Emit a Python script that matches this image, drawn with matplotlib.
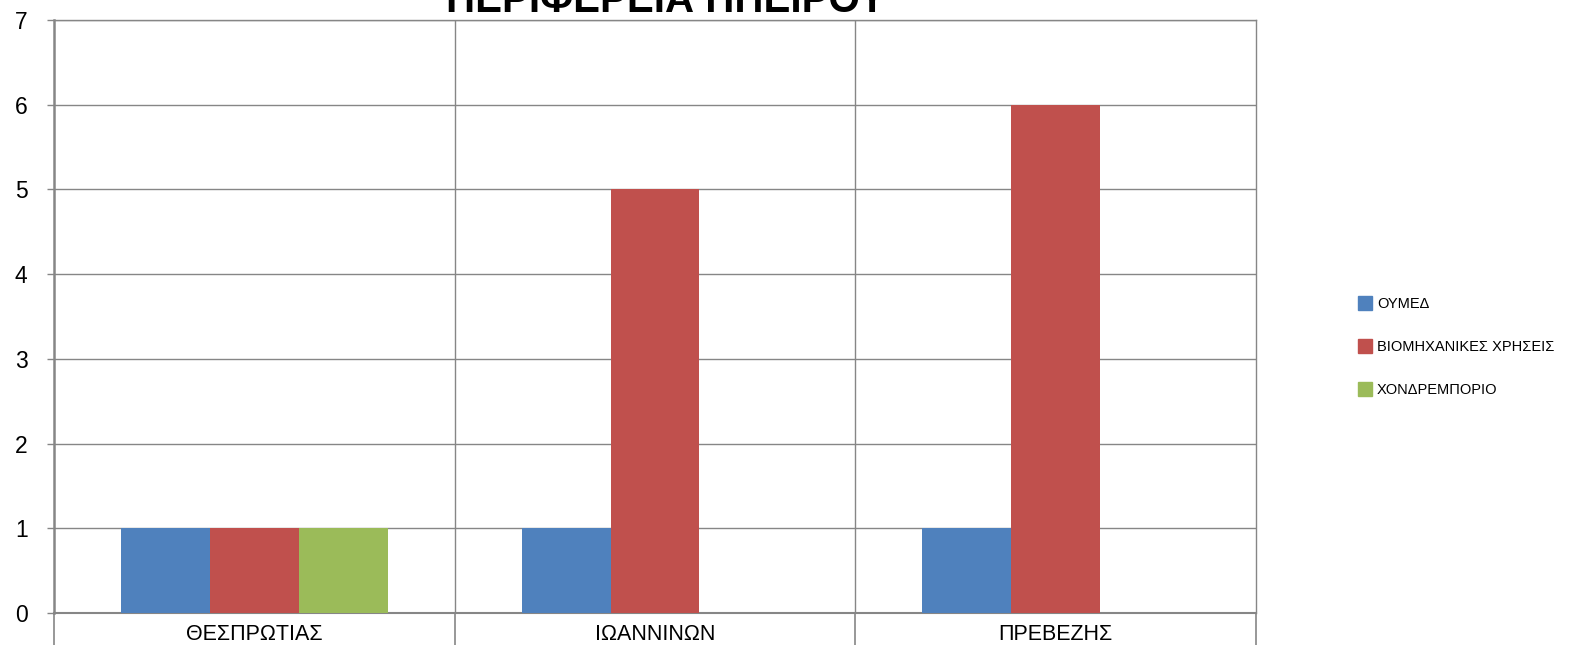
import numpy as np
import matplotlib.pyplot as plt
from matplotlib.lines import Line2D

plt.rcParams['font.family'] = ['Liberation Sans Narrow', 'Liberation Sans', 'DejaVu Sans']

# ── Data ──────────────────────────────────────────────────────────────────────
title = "ΠΕΡΙΦΕΡΕΙΑ ΗΠΕΙΡΟΥ"
categories = ["ΘΕΣΠΡΩΤΙΑΣ", "ΙΩΑΝΝΙΝΩΝ", "ΠΡΕΒΕΖΗΣ"]
series_names = ["ΟΥΜΕΔ", "ΒΙΟΜΗΧΑΝΙΚΕΣ ΧΡΗΣΕΙΣ", "ΧΟΝΔΡΕΜΠΟΡΙΟ"]
oumed = [1, 1, 1]
viomixanikes = [1, 5, 6]
xondremporio = [1, 0, 0]
colors = ["#4F81BD", "#C0504D", "#9BBB59"]

# ── Figure ────────────────────────────────────────────────────────────────────
fig = plt.figure(figsize=(15.96, 6.45), dpi=100)
ax = fig.add_axes([54 / 1596, 1 - 613 / 645, (1256 - 54) / 1596, (613 - 20) / 645])

x = np.arange(len(categories))
bw = 0.222
for k, vals in enumerate([oumed, viomixanikes, xondremporio]):
    ax.bar(x + (k - 1) * bw, vals, width=bw, color=colors[k], zorder=3,
           label=series_names[k])

grid_col = "#868686"
ax.set_xlim(-0.5, len(categories) - 0.5)
ax.set_ylim(0, 7)
ax.set_yticks(range(0, 8))
ax.yaxis.grid(True, color=grid_col, lw=1, zorder=0)
# vertical separators between categories
for b in np.arange(0.5, len(categories) - 0.5, 1):
    ax.axvline(b, color=grid_col, lw=1, zorder=1)

ax.set_xticks(np.arange(-0.5, len(categories), 1))
ax.set_xticklabels([])
ax.set_xticks(x, minor=True)
ax.set_xticklabels(categories, minor=True, fontsize=15.5)
ax.tick_params(axis='x', which='major', length=40, color=grid_col, width=1.2)
ax.tick_params(axis='x', which='minor', length=0, pad=8)
ax.tick_params(axis='y', length=5, color=grid_col, width=1, labelsize=16.5, pad=14)

for side in ['left', 'right', 'top', 'bottom']:
    ax.spines[side].set_color(grid_col)
ax.spines['left'].set_linewidth(1.8)
ax.spines['bottom'].set_linewidth(1.5)
ax.spines['top'].set_linewidth(1)
ax.spines['right'].set_linewidth(1)

# ── Title (partly cut off at the top) ─────────────────────────────────────────
fig.text(666 / 1596, 1 - 12 / 645, title, ha='center', va='baseline',
         fontsize=29, fontweight='bold')

# ── Legend ────────────────────────────────────────────────────────────────────
handles = [Line2D([], [], marker='s', ls='none', markersize=9.5,
                  markerfacecolor=c, markeredgecolor=c) for c in colors]
fig.legend(handles, series_names, loc='upper left',
           bbox_to_anchor=(1345 / 1596, 1 - 284 / 645), frameon=False,
           fontsize=10.5, handletextpad=0.3, labelspacing=2.0,
           handlelength=1.0)

fig.savefig("out.png", dpi=100)
